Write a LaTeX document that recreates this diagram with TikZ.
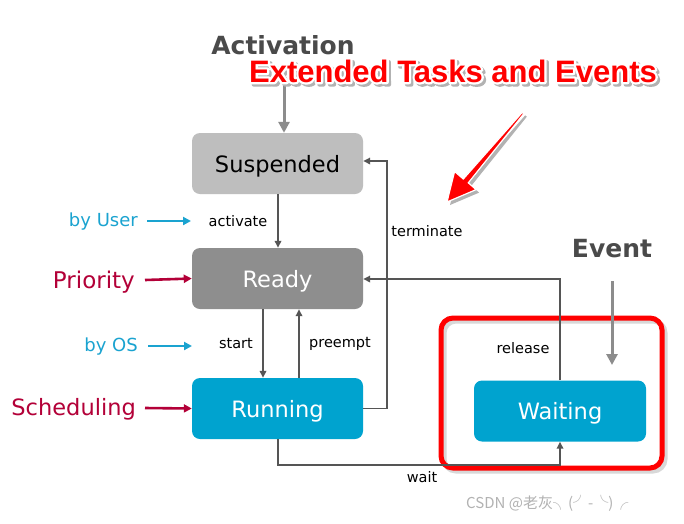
\documentclass[tikz,border=0pt]{standalone}
\usepackage{fontspec}
\setmainfont{DejaVu Sans}
\newfontfamily\titlefont{Liberation Sans}
\newfontfamily\cjkfont{Noto Sans CJK SC}
\usetikzlibrary{arrows.meta,positioning}
\definecolor{susp}{HTML}{BEBEBE}
\definecolor{ready}{HTML}{8E8E8E}
\definecolor{run}{HTML}{00A3CF}
\definecolor{conn}{HTML}{555555}
\definecolor{cblue}{HTML}{1AA3D0}
\definecolor{crim}{HTML}{B30038}
\definecolor{dgray}{HTML}{4A4A4A}
\definecolor{agray}{HTML}{8C8C8C}
\definecolor{wred}{HTML}{FF0000}
\tikzset{
  state/.style={rounded corners=8pt, minimum width=171pt, minimum height=61pt, inner sep=0pt, text depth=0pt, font=\fontsize{22.5}{26}\selectfont},
  conline/.style={draw=conn, line width=1.6pt, -{Triangle[length=7pt,width=6.5pt]}},
  lbl/.style={font=\fontsize{14.5}{17}\selectfont, text=black, inner sep=0pt},
  sidearrow/.style={line width=2.6pt, -{Triangle[length=8pt,width=8pt]}},
  bigarrow/.style={draw=agray, line width=3pt, -{Triangle[length=11pt,width=11pt]}},
  heading/.style={font=\bfseries\fontsize{25}{29}\selectfont, text=dgray, inner sep=0pt},
}
\begin{document}
\begin{tikzpicture}[x=1pt,y=-1pt]
\useasboundingbox (0,0) rectangle (684,523);
\fill[white] (0,0) rectangle (684,523);

% states
\node[state, fill=susp, text=black] (susp) at (277.5,163.5) {Suspended};
\node[state, fill=ready, text=white] (ready) at (277.5,278.5) {Ready};
\node[state, fill=run, text=white] (run) at (277.5,408.5) {Running};
\node[state, fill=run, text=white, minimum width=172pt] (wait) at (560,411) {Waiting};

% red highlight frame
\draw[black!25, line width=5pt, rounded corners=12pt, opacity=0.6] (444,321) rectangle (665,471);
\node[draw=wred, line width=5pt, rounded corners=12pt, minimum width=221pt, minimum height=150pt, inner sep=0pt] (frame) at (551.5,393) {};

% headings
\node[heading] (act) at (283,45) {Activation};
\node[heading] (evt) at (612,249) {Event};
\coordinate (actS) at (284,85);
\coordinate (evtS) at (612,281);
\coordinate (evtE) at (612,365);
\draw[bigarrow] (actS) -- (susp.north -| actS);
\draw[bigarrow] (evtS) -- (evtE);

% transitions
\draw[conline] (susp.south -| 278,0) -- (ready.north -| 278,0);
\node[lbl] (lact) at (238,221) {activate};
\draw[conline] (ready.south -| 263,0) -- (run.north -| 263,0);
\node[lbl] (lstart) at (236,344) {start};
\draw[conline] (run.north -| 299,0) -- (ready.south -| 299,0);
\node[lbl] (lpre) at (340,344) {preempt};
\coordinate (tm1) at (387,408.5);
\coordinate (tm2) at (387,161);
\draw[conline] (run.east) -- (tm1) -- (tm2) -- (susp.east |- tm2);
\node[lbl] (lterm) at (427,231) {terminate};
\coordinate (rl1) at (560,279);
\draw[conline] (wait.north) -- (rl1) -- (ready.east |- rl1);
\node[lbl] (lrel) at (523,348) {release};
\coordinate (w1) at (278,465);
\coordinate (w2) at (560,465);
\draw[conline] (run.south -| w1) -- (w1) -- (w2) -- (wait.south);
\node[lbl] (lwait) at (422,477) {wait};

% side labels
\node[font=\fontsize{18}{21}\selectfont, text=cblue, anchor=east, inner sep=0pt] (byuser) at (138,222) {by User};
\draw[sidearrow, draw=cblue, fill=cblue] (147,221) -- (191,221);
\node[font=\fontsize{23}{27}\selectfont, text=crim, anchor=east, inner sep=0pt] (prio) at (135,282.5) {Priority};
\draw[sidearrow, draw=crim, fill=crim] (145,280) -- (ready.west);
\node[font=\fontsize{18}{21}\selectfont, text=cblue, anchor=east, inner sep=0pt] (byos) at (138,347) {by OS};
\draw[sidearrow, draw=cblue, fill=cblue] (148,346) -- (192,346);
\node[font=\fontsize{22.5}{26}\selectfont, text=crim, anchor=east, inner sep=0pt] (sched) at (136,409.5) {Scheduling};
\draw[sidearrow, draw=crim, fill=crim] (145,408) -- (run.west);

% callout title: shadow, white outline (stroked text), red fill
\def\ttl{\titlefont\bfseries\fontsize{31}{35}\selectfont Extended Tasks and Events}
\node[inner sep=0pt] (calloutshadow) at (455.5,73.5) {\special{pdf:code q 2 Tr 4 w 1 j 0.7 0.7 0.7 RG 0.7 0.7 0.7 rg}\ttl\special{pdf:code Q}};
\node[inner sep=0pt] (calloutline) at (453,71) {\special{pdf:code q 2 Tr 4.5 w 1 j 1 1 1 RG 1 1 1 rg}\ttl\special{pdf:code Q}};
\node[text=wred, inner sep=0pt] (callout) at (453,71) {\ttl};

% red callout arrow
\fill[black!30, shift={(3,3)}] (523.8,113.7) -- (468.3,182.8) -- (476.1,189.6) -- (447,202) -- (454.6,171.5) -- (463.3,179.0) -- (522.2,112.4) -- cycle;
\filldraw[fill=wred, draw=white, line width=1.2pt, line join=miter] (523.8,113.7) -- (468.3,182.8) -- (476.1,189.6) -- (447,202) -- (454.6,171.5) -- (463.3,179.0) -- (522.2,112.4) -- cycle;

% watermark
\node[font=\cjkfont\fontsize{15}{18}\selectfont, text=black!30, anchor=west, inner sep=0pt] (wm) at (466,503) {CSDN @老灰╮(╯-╰)╭};
\end{tikzpicture}
\end{document}
